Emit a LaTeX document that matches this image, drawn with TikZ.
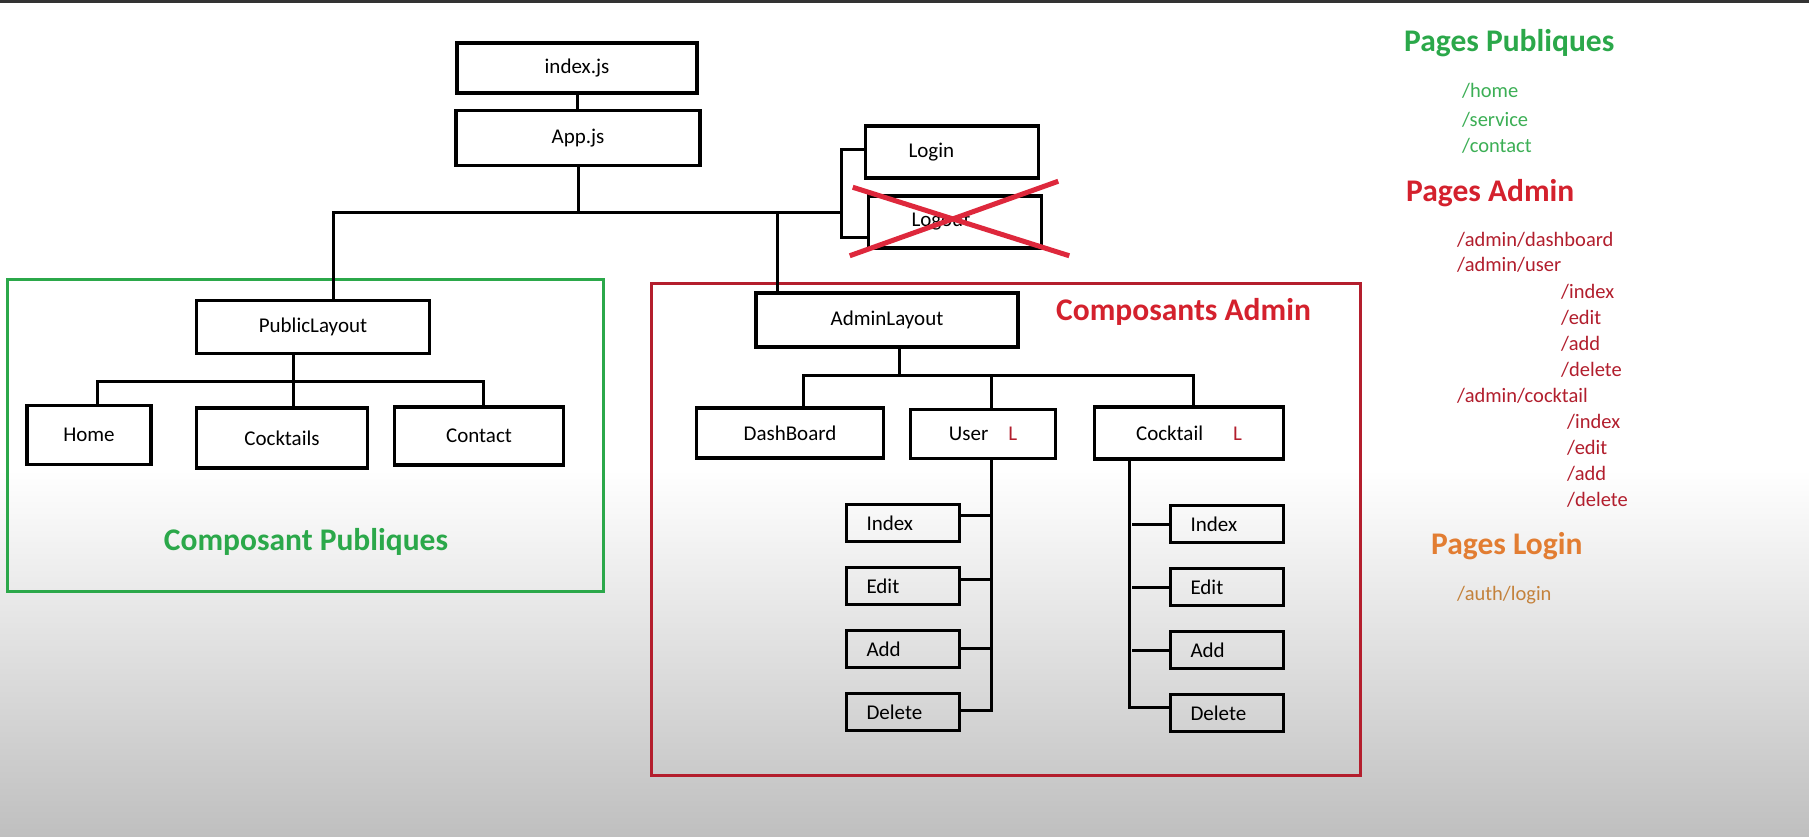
\documentclass[tikz,border=0pt]{standalone}
\usepackage{fontspec}
\setmainfont{Carlito}
\usetikzlibrary{positioning}

\definecolor{pubgreen}{RGB}{43,168,74}
\definecolor{routegreen}{RGB}{60,175,85}
\definecolor{admred}{RGB}{212,33,45}
\definecolor{routered}{RGB}{178,30,45}
\definecolor{framered}{RGB}{180,30,45}
\definecolor{loginorange}{RGB}{226,125,50}
\definecolor{routeorange}{RGB}{196,130,60}
\definecolor{crossred}{RGB}{222,40,60}

\begin{document}
\begin{tikzpicture}[
    x=1pt, y=-1pt,
    box/.style={draw, line width=3.5pt, inner sep=0pt, font=\fontsize{21}{25}\selectfont},
    leaf/.style={box, minimum height=37pt, text width=73pt, inner xsep=20pt, align=left},
    side/.style={box, minimum width=173pt, minimum height=52pt, text width=87pt, inner xsep=43pt, align=left},
    link/.style={line width=3pt},
    frame/.style={line width=3pt},
    head/.style={anchor=west, inner sep=0pt, font=\bfseries\fontsize{31.5}{37}\selectfont},
    route/.style={anchor=west, inner sep=0pt, font=\fontsize{20.5}{24}\selectfont}
]
    % background
    \fill[white] (0,0) rectangle (1809,836);
    \shade[top color=white, bottom color=black!25] (0,470) rectangle (1809,836);
    \fill[black!80] (0,0) rectangle (1809,3);
    \useasboundingbox (0,0) rectangle (1809,836);

    % frames
    \draw[frame, pubgreen]  (7,279)   rectangle (603,591);
    \draw[frame, framered]  (651,283) rectangle (1360,775);

    % top of the tree
    \node[box, minimum width=240pt, minimum height=50pt] (idx) at (577,68)  {index.js};
    \node[box, minimum width=244pt, minimum height=55pt] (app) at (578,138) {App.js};
    \node[side] (lgi) at (952,152) {Login};
    \node[side] (lgo) at (955,222) {Logout};

    % public part
    \node[box, minimum width=233pt, minimum height=53pt] (pub)  at (313,327) {PublicLayout};
    \node[box, minimum width=124pt, minimum height=59pt] (home) at (89,435)  {Home};
    \node[box, minimum width=171pt, minimum height=60pt] (cock) at (282,438) {Cocktails};
    \node[box, minimum width=169pt, minimum height=58pt] (cont) at (479,436) {Contact};
    \node[head, pubgreen, anchor=center] (cpub) at (306,542) {Composant Publiques};

    % admin part
    \node[box, minimum width=262pt, minimum height=54pt] (adm)  at (887,320)  {AdminLayout};
    \node[box, minimum width=187pt, minimum height=50pt] (dash) at (790,433)  {DashBoard};
    \node[box, minimum width=145pt, minimum height=49pt] (user) at (983,434)  {User\hspace{20pt}\textcolor{routered}{L}};
    \node[box, minimum width=189pt, minimum height=52pt] (cktl) at (1189,433) {Cocktail\hspace{30pt}\textcolor{routered}{L}};
    \node[head, admred] (cadm) at (1056,312) {Composants Admin};

    \node[leaf] (ui) at (903,523) {Index};
    \node[leaf, below=22.5pt of ui] (ue) {Edit};
    \node[leaf, below=22.5pt of ue] (ua) {Add};
    \node[leaf, below=22.5pt of ua] (ud) {Delete};

    \node[leaf] (ci) at (1227,524) {Index};
    \node[leaf, below=22.5pt of ci] (ce) {Edit};
    \node[leaf, below=22.5pt of ce] (ca) {Add};
    \node[leaf, below=22.5pt of ca] (cd) {Delete};

    % connectors
    \coordinate (bus)  at (841,212);
    \coordinate (pbus) at (293,381);
    \coordinate (abus) at (899,375);
    \coordinate (ubot) at (991,709);
    \coordinate (cbot) at (1132,706);

    \draw[link] (idx.south) -- (idx.south |- app.north);
    \draw[link] (app.south) -- (app.south |- bus);
    \draw[link] ([xshift=20pt]pub.north) |- (bus);
    \draw[link] ([xshift=23pt]adm.north west) -- ([xshift=23pt]adm.north west |- bus);
    \draw[link] ([yshift=3pt]lgi.west) -| (bus) |- ([yshift=-15pt]lgo.west);

    \draw[link] ([xshift=-20pt]pub.south) -- ([xshift=11pt]cock.north);
    \draw[link] ([xshift=8pt]home.north) |- (pbus) -| ([xshift=4pt]cont.north);

    \draw[link] ([xshift=12pt]adm.south) -- (abus);
    \draw[link] ([xshift=13pt]dash.north) |- (abus) -| ([xshift=4pt]cktl.north);
    \draw[link] ([xshift=8pt]user.north) -- ([xshift=8pt]user.north |- abus);

    \draw[link] ([xshift=8pt]user.south) |- ([yshift=2pt]ud.east);
    \foreach \n/\s in {ui/8, ue/7, ua/1}
        \draw[link] ([yshift=\s pt]\n.east) -- ([yshift=\s pt]\n.east -| ubot);

    \draw[link] ([xshift=37pt]cktl.south west) |- ([yshift=6pt]cd.west);
    \foreach \n in {ci, ce, ca}
        \draw[link] (\n.west) -- (\n.west -| cbot);

    % logout is crossed out
    \draw[crossred, line width=5pt] ([shift={(-14pt,7pt)}]lgo.north west) -- ([shift={(26pt,-6pt)}]lgo.south east);
    \draw[crossred, line width=5pt] ([shift={(-17pt,-6pt)}]lgo.south west) -- ([shift={(15pt,13pt)}]lgo.north east);

    % routes
    \node[head, pubgreen] (hpub) at (1404,43) {Pages Publiques};
    \node[route, routegreen] (r1) at (1462,91)  {/home};
    \node[route, routegreen] (r2) at (1462,120) {/service};
    \node[route, routegreen] (r3) at (1462,146) {/contact};

    \node[head, admred] (hadm) at (1406,193) {Pages Admin};
    \node[route, routered] (a1) at (1457,240) {/admin/dashboard};
    \node[route, routered] (a2) at (1457,265) {/admin/user};
    \foreach \t [count=\i] in {index, edit, add, delete}
        \node[route, routered] (u\i) at (1561,266+26*\i) {/\t};
    \node[route, routered] (a3) at (1457,396) {/admin/cocktail};
    \foreach \t [count=\i] in {index, edit, add, delete}
        \node[route, routered] (k\i) at (1567,396+26*\i) {/\t};

    \node[head, loginorange] (hlog) at (1431,546) {Pages Login};
    \node[route, routeorange] (l1) at (1457,595) {/auth/login};
\end{tikzpicture}
\end{document}
